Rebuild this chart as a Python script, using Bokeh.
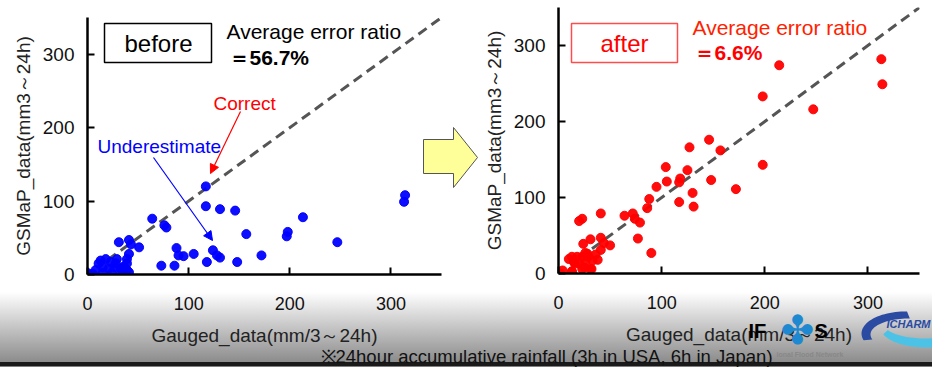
import numpy as np
from bokeh.plotting import figure
from bokeh.models import (FixedTicker, Label, Arrow, NormalHead, BoxAnnotation,
                          PolyAnnotation, Range1d)
from bokeh.embed import file_html
from bokeh.resources import INLINE

# ---------------- data ----------------
before_gauged = [117, 117, 131, 146, 64, 76, 78, 157, 198, 197, 213, 247, 314, 313,
                 88, 90, 95, 105, 73, 86, 118, 124, 128, 131, 148, 172,
                 31, 41, 43, 51, 41, 39, 39, 39, 29, 28, 23, 18, 13, 11, 15, 21, 33,
                 5, 0, 15, 24, 33, 41, 27, 36, 8]
before_gsmap = [120, 93, 89, 87, 76, 67, 64, 55, 58, 52, 78, 44, 108, 99,
                36, 26, 25, 28, 12, 12, 17, 33, 26, 23, 17, 26,
                44, 47, 41, 37, 28, 21, 15, 6, 21, 15, 17, 21, 19, 15, 10, 8, 8,
                1, 2, 2, 2, 2, 3, 10, 11, 6]

after_gauged = [313, 314, 214, 198, 247, 198, 146, 127, 157, 148, 172, 104, 125, 118,
                117, 105, 95, 130, 117, 131, 88, 86, 64, 72, 74, 79, 77, 90,
                41, 23, 20, 31, 24, 41, 44, 50, 41, 36, 38, 32, 25, 13, 2, 4,
                16, 26, 29, 18, 10, 28, 23, 13, 15, 20, 26, 33, 23, 31, 13]
after_gsmap = [282, 249, 274, 233, 216, 143, 176, 166, 162, 123, 111, 140, 136, 125,
               120, 121, 114, 106, 94, 88, 98, 86, 76, 79, 72, 67, 46, 27,
               79, 72, 69, 45, 39, 47, 40, 37, 31, 25, 18, 6, 8, 2, 0, 4,
               13, 27, 22, 22, 19, 26, 22, 22, 15, 13, 15, 17, 6, 6, 3]

ticks = [0, 100, 200, 300]
axis_max = 350
ref_line = [20, 350]

x_title = "Gauged_data(mm/3～24h)"
y_title = "GSMaP_data(mm3～24h)"
caption = "※24hour accumulative rainfall (3h in USA, 6h in Japan)"
FONT = "Liberation Sans"
W, H = 932, 367
GRADIENT = ("linear-gradient(to bottom, #ffffff 0px, #ffffff 292px, #8c8c8c 362px, "
            "#1a1a1a 362px, #1a1a1a 366px, #808080 366px, #808080 367px)")


def make_panel(width, fl, fr, ft, fb, ox, xs, ys, color, styles):
    p = figure(width=width, height=H, x_range=Range1d(0, axis_max),
               y_range=Range1d(0, axis_max), output_backend="svg",
               toolbar_location=None, min_border_left=fl,
               min_border_right=width - fr, min_border_top=ft,
               min_border_bottom=H - fb, border_fill_color=None,
               background_fill_color=None, outline_line_color=None,
               styles=styles)
    p.grid.visible = False
    for ax in (p.xaxis[0], p.yaxis[0]):
        ax.ticker = FixedTicker(ticks=ticks)
        ax.axis_line_width = 2.5
        ax.axis_line_color = "black"
        ax.major_tick_in = 7
        ax.major_tick_out = 0
        ax.major_tick_line_width = 2
        ax.minor_tick_in = 0
        ax.minor_tick_out = 0
        ax.major_label_text_font = FONT
        ax.major_label_text_color = "#111111"
        ax.axis_label_text_font = FONT
        ax.axis_label_text_font_style = "normal"
        ax.axis_label_text_color = "#222222"
        ax.axis_label_text_font_size = "19px"
    p.xaxis.axis_label = x_title
    p.yaxis.axis_label = y_title
    p.xaxis.major_label_text_font_size = "18px"
    p.yaxis.major_label_text_font_size = "19px"
    p.xaxis.major_label_standoff = 22
    p.xaxis.axis_label_standoff = 12
    p.yaxis.major_label_standoff = 13
    p.yaxis.axis_label_standoff = 6

    p.line(ref_line, ref_line, line_color="#555555", line_width=3, line_dash="10 6")
    p.scatter(xs, ys, size=9, color=color, alpha=0.95)

    sx = axis_max / (fr - fl)
    sy = axis_max / (fb - ft)

    def dx(cx):
        return (cx - ox - fl) * sx

    def dy(cy):
        return (fb - cy) * sy

    return p, dx, dy


def lab(p, x, y, text, size, color, style="normal", align="left", font=FONT):
    p.add_layout(Label(x=x, y=y, text=text, text_font=font, text_font_size=size,
                       text_font_style=style, text_color=color,
                       text_align=align, text_baseline="middle"))


# ---------------- left panel ----------------
p1, dx1, dy1 = make_panel(480, 87, 441, 17, 274, 0, before_gauged, before_gsmap, "#0000ff",
                          {"background": GRADIENT, "position": "absolute",
                           "left": "0px", "top": "0px"})
p1.add_layout(BoxAnnotation(left=dx1(104), right=dx1(211), top=dy1(23), bottom=dy1(62),
                            fill_color="white", fill_alpha=1, line_color="black",
                            line_alpha=1, line_width=1.5))
lab(p1, dx1(158), dy1(43), "before", "24px", "black", align="center")
lab(p1, dx1(226), dy1(31), "Average error ratio", "21px", "black")
lab(p1, dx1(228), dy1(57), "＝56.7%", "21px", "black", style="bold")
lab(p1, dx1(213), dy1(103), "Correct", "19px", "#ff0000")
p1.add_layout(Arrow(end=NormalHead(size=9, fill_color="#ff0000", line_color="#ff0000"),
                    x_start=dx1(240), y_start=dy1(111), x_end=dx1(210), y_end=dy1(173),
                    line_color="#ff0000", line_width=1.2))
lab(p1, dx1(97), dy1(146), "Underestimate", "19px", "#0000ff")
p1.add_layout(Arrow(end=NormalHead(size=9, fill_color="#0000ff", line_color="#0000ff"),
                    x_start=dx1(153), y_start=dy1(157), x_end=dx1(212), y_end=dy1(240),
                    line_color="#0000ff", line_width=1.2))

# ---------------- right panel ----------------
p2, dx2, dy2 = make_panel(452, 78, 439, 7, 273, 480, after_gauged, after_gsmap, "#ff0000",
                          {"background": GRADIENT, "position": "absolute",
                           "left": "480px", "top": "0px"})
p2.add_layout(BoxAnnotation(left=dx2(571), right=dx2(677), top=dy2(23), bottom=dy2(62),
                            fill_color="white", fill_alpha=1, line_color="#ff4d4d",
                            line_alpha=1, line_width=1.5))
lab(p2, dx2(624), dy2(43), "after", "24px", "#ff0000", align="center")
lab(p2, dx2(692), dy2(27), "Average error ratio", "21px", "#ff2200")
lab(p2, dx2(693), dy2(52), "＝6.6%", "21px", "#ff0000", style="bold")

# ---------------- overlay (decorations spanning the whole slide) ----------------
p3 = figure(width=W, height=H, x_range=Range1d(0, W), y_range=Range1d(H, 0),
            output_backend="svg", toolbar_location=None, x_axis_type=None,
            y_axis_type=None, min_border=0, border_fill_color=None,
            background_fill_color=None, outline_line_color=None,
            styles={"position": "absolute", "left": "0px", "top": "0px",
                    "pointer-events": "none"})
p3.grid.visible = False

# yellow arrow between the panels
p3.add_layout(PolyAnnotation(xs=[423, 453, 453, 477, 453, 453, 423],
                             ys=[139, 139, 127, 157, 187, 173, 173],
                             fill_color="#ffff99", fill_alpha=1, line_color="#555555",
                             line_alpha=1, line_width=1))
# caption
lab(p3, 320, 356, caption, "18.5px", "#111111")

# IFAS logo
lab(p3, 748, 330, "IF", "20px", "black", style="bold")
lab(p3, 797, 329, "✤", "40px", "#1e88d0", align="center", font="DejaVu Sans")
lab(p3, 814, 330, "S", "20px", "black", style="bold")
lab(p3, 776, 354, "ional Flood Network", "7px", "#888888", style="bold")


def crescent(cx1, cy1, rx1, ry1, cx2, cy2, rx2, ry2, t0, t1):
    t = np.radians(np.linspace(t0, t1, 30))
    ox = cx1 + rx1 * np.cos(t)
    oy = cy1 - ry1 * np.sin(t)
    ix = (cx2 + rx2 * np.cos(t))[::-1]
    iy = (cy2 - ry2 * np.sin(t))[::-1]
    return list(np.concatenate([ox, ix])), list(np.concatenate([oy, iy]))


cxs, cys = crescent(905, 333, 44, 22, 908, 334, 38, 16, 88, 198)
p3.add_layout(PolyAnnotation(xs=cxs, ys=cys, fill_color="#2b4ba3", fill_alpha=1,
                             line_color=None))
cxs, cys = crescent(925, 327, 45, 20, 925, 325, 40, 13, 200, 300)
p3.add_layout(PolyAnnotation(xs=cxs, ys=cys, fill_color="#4cc3e6", fill_alpha=1,
                             line_color=None))
lab(p3, 886, 323, "ICHARM", "11px", "#2b4ba3", style="bold italic")

open("out.html", "w").write(file_html([p1, p2, p3], INLINE))
